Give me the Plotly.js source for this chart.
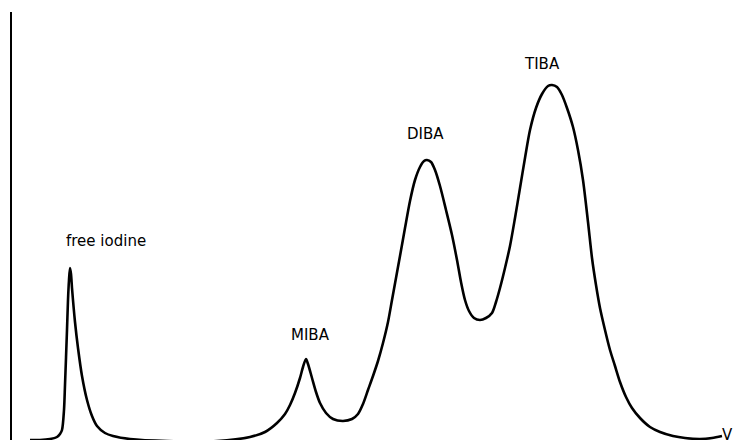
<!DOCTYPE html>
<html>
<head>
<meta charset="utf-8">
<script src="https://cdn.plot.ly/plotly-3.0.1.min.js"></script>
<style>html,body{margin:0;padding:0;background:#fff;}#chart{width:738px;height:444px;}</style>
</head>
<body>
<div id="chart"></div>
<script>
// Elution volume (arbitrary units) and detector response (arbitrary units)
const volume = [18,28,38,45,48,50,52,53,55,56,57,58,59,60,63,66,70,75,80,85,93,101,118,155,205,238,253,265,273,278,283,288,291,294,296,300,304,308,314,321,331,340,346,351,356,361,366,371,376,380,384,388,393,398,403,408,412,415,419,423,428,434,440,445,449,453,457,462,468,474,480,484,488,493,498,503,508,513,518,524,530,536,540,545,550,555,561,566,571,576,580,584,588,593,598,603,608,614,620,628,638,648,661,673,688,700,710];
const response = [0,0,1,3,6,10,30,55,110,140,160,172,166,152,118,92,64,40,24,14,7,4,1,-1,-1,3,8,17,26,35,47,62,73,81,76,62,48,37,27,21,19,21,26,36,50,64,79,97,118,140,162,184,212,239,260,273,279,280,278,270,254,230,205,180,158,140,129,122,120,122,127,138,152,172,194,222,252,282,310,332,346,354,355,353,345,332,313,290,260,218,182,155,132,110,90,74,58,43,32,22,13,8,4,2,1,2,4];
const labels = ["free iodine", "MIBA", "DIBA", "TIBA"];
const labelX = [94, 298, 413, 530];
const labelY = [199, 105, 306, 376];

const annotations = labels.map((t, i) => ({
  x: labelX[i], y: labelY[i], xref: 'x', yref: 'y', text: t, showarrow: false,
  font: {family: 'DejaVu Sans', size: 15, color: '#000'}
}));
annotations.push({
  x: 1, y: 0, xref: 'paper', yref: 'y', text: 'V', showarrow: false,
  xanchor: 'right', yanchor: 'middle', xshift: -3, yshift: 5,
  font: {family: 'DejaVu Sans', size: 15, color: '#000'}
});

Plotly.newPlot('chart', [{
  x: volume, y: response, type: 'scatter', mode: 'lines',
  line: {color: '#000', width: 2.6, shape: 'spline', smoothing: 0.8},
  hoverinfo: 'skip', cliponaxis: false
}], {
  width: 738, height: 444,
  margin: {l: 12, r: 0, t: 12, b: 4},
  paper_bgcolor: '#fff', plot_bgcolor: '#fff',
  showlegend: false,
  xaxis: {range: [0, 726], showgrid: false, zeroline: false, showline: false, showticklabels: false, ticks: ''},
  yaxis: {range: [0, 428], showgrid: false, zeroline: false, showline: true, linecolor: '#000', linewidth: 2, mirror: false, showticklabels: false, ticks: ''},
  annotations: annotations
}, {staticPlot: true, displayModeBar: false});
</script>
</body>
</html>
